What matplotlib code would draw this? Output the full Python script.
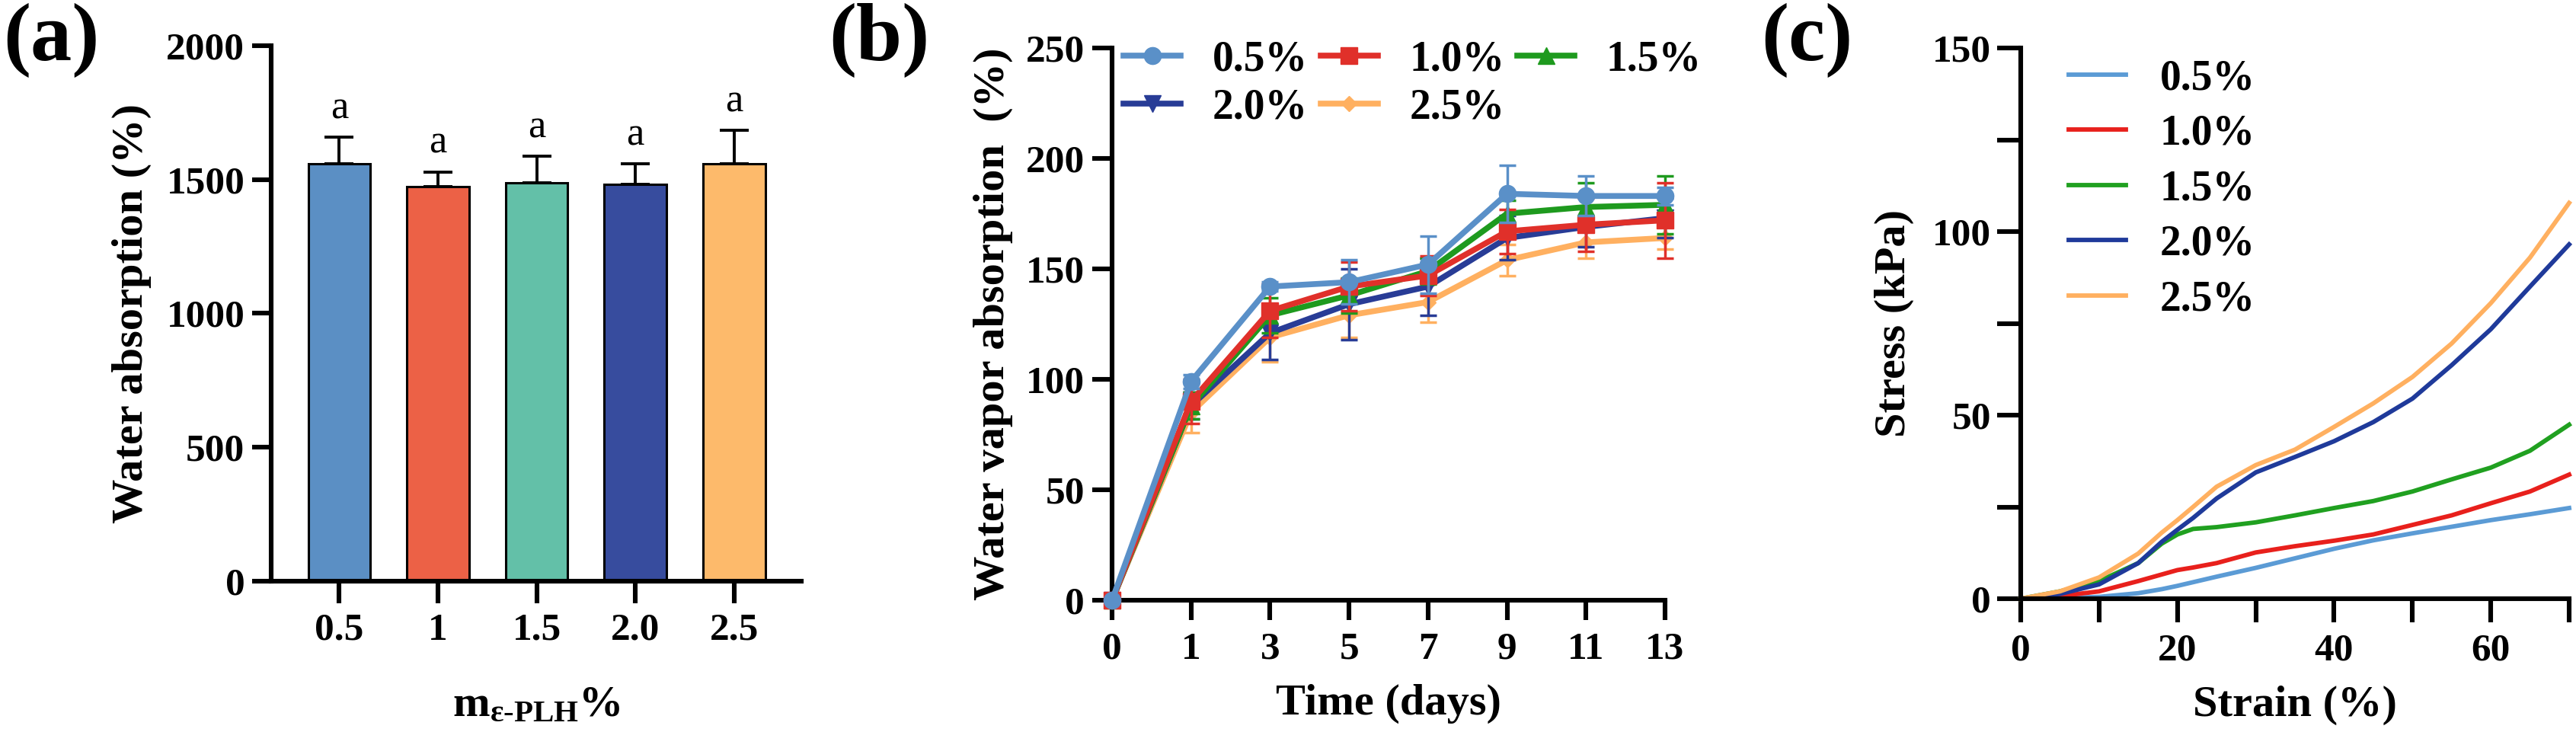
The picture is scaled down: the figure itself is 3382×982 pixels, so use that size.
import matplotlib
matplotlib.use("Agg")
import matplotlib.pyplot as plt
from matplotlib.lines import Line2D
import numpy as np

plt.rcParams['font.family'] = ['Liberation Serif', 'DejaVu Serif']
plt.rcParams['font.weight'] = 'bold'
plt.rcParams['mathtext.fontset'] = 'custom'
plt.rcParams['mathtext.rm'] = 'Liberation Serif:bold'
plt.rcParams['mathtext.bf'] = 'Liberation Serif:bold'
plt.rcParams['mathtext.it'] = 'Liberation Serif:bold'

# ---- Panel (a) data ----
a_labels = ['0.5', '1', '1.5', '2.0', '2.5']
a_values = [1558, 1473, 1487, 1483, 1560]
a_errors = [100, 55, 100, 75, 123]
a_colors = ['#5B8FC4', '#EC6146', '#63C0A8', '#374C9E', '#FDBA6B']
a_letters = ['a', 'a', 'a', 'a', 'a']

# ---- Panel (b) data ----
b_days = ['0', '1', '3', '5', '7', '9', '11', '13']
b_series = ['0.5%', '1.0%', '1.5%', '2.0%', '2.5%']
b_05 = [0, 99, 142, 144, 152, 184, 183, 183]
b_10 = [0, 90, 131, 142, 147, 167, 170, 172]
b_15 = [0, 88, 129, 138, 149, 175, 178, 179]
b_20 = [0, 88, 121, 134, 142, 164, 169, 173]
b_25 = [0, 85, 119, 129, 135, 154, 162, 164]
b_05_err = [0, 3, 2, 10, 13, 13, 9, 4]
b_10_err = [0, 10, 12, 11, 9, 10, 12, 17]
b_15_err = [0, 6, 8, 8, 6, 6, 11, 13]
b_20_err = [0, 6, 12, 16, 13, 10, 9, 9]
b_25_err = [0, 9, 11, 10, 9, 7, 7, 5]
b_colors = ['#5A90C8', '#E0302A', '#1E9A1E', '#283C96', '#FFB060']
b_markers = ['o', 's', '^', 'v', 'D']

# ---- Panel (c) data ----
c_strain = [0, 5, 10, 15, 18, 20, 22, 25, 30, 35, 40, 45, 50, 55, 60, 65, 70]
c_05 = [0, 0.2, 0.5, 1.5, 2.6, 3.5, 4.5, 6.0, 8.4, 11.0, 13.6, 15.9, 17.8, 19.6, 21.4, 23.0, 24.7]
c_10 = [0, 0.7, 2.0, 4.8, 6.6, 7.8, 8.5, 9.7, 12.6, 14.3, 15.8, 17.5, 20.1, 22.7, 26.0, 29.2, 33.8]
c_15 = [0, 2.0, 4.8, 9.7, 15.0, 17.5, 19.0, 19.5, 20.8, 22.7, 24.7, 26.6, 29.2, 32.5, 35.7, 40.3, 47.4]
c_20 = [0, 1.3, 3.9, 9.7, 15.5, 18.8, 22.0, 27.3, 34.4, 38.6, 42.9, 48.1, 54.5, 63.6, 73.4, 85.0, 96.5]
c_25 = [0, 2.0, 5.8, 12.3, 18.0, 21.4, 25.0, 30.5, 36.4, 40.6, 46.8, 53.2, 60.4, 69.5, 80.5, 92.9, 107.8]
c_colors = ['#5B9BD5', '#E8201C', '#20A020', '#1F3A9A', '#FFB060']

W, H = 3382, 982
fig = plt.figure(figsize=(W / 100, H / 100), dpi=100)

TICK = 37
LAB = 42
LEG = 40
SPW = 4.4

def style(ax):
    for s in ['top', 'right']:
        ax.spines[s].set_visible(False)
    for s in ['left', 'bottom']:
        ax.spines[s].set_linewidth(SPW)
    ax.tick_params(axis='both', which='major', length=19, width=SPW, labelsize=TICK, pad=6)
    ax.tick_params(axis='both', which='minor', length=13, width=SPW)
    for lab in ax.get_xticklabels() + ax.get_yticklabels():
        lab.set_fontweight('bold')

# ---- (a) ----
axa = fig.add_axes([356 / W, 1 - 763 / H, (1052 - 356) / W, (763 - 60) / H])
xa = np.arange(len(a_labels))
axa.bar(xa, a_values, width=0.63, color=a_colors, edgecolor='black', linewidth=2.2, zorder=2)
axa.errorbar(xa, a_values, yerr=[np.zeros(len(a_errors)), a_errors], fmt='none',
             ecolor='black', elinewidth=2.8, capsize=14, capthick=2.8, zorder=1)
for x, v, e, t in zip(xa, a_values, a_errors, a_letters):
    axa.text(x, v + e + 40, t, ha='center', va='bottom', fontsize=38, fontweight='normal')
axa.set_xlim(-0.69, 4.68)
axa.set_ylim(0, 2000)
axa.set_yticks([0, 500, 1000, 1500, 2000])
axa.set_xticks(xa)
axa.set_xticklabels(a_labels)
axa.set_ylabel('Water absorption (%)', fontsize=LAB, fontweight='bold', labelpad=14)
axa.set_xlabel(r'm$_{\mathregular{ε‐PLH}}$%', fontsize=LAB, fontweight='bold', labelpad=36)
style(axa)
axa.tick_params(axis='x', length=21, pad=9)
axa.tick_params(axis='y', length=18, pad=7)

# ---- (b) ----
axb = fig.add_axes([1460 / W, 1 - 788 / H, (2186 - 1460) / W, (788 - 63) / H])
xb = np.arange(len(b_days))
b_all = [b_05, b_10, b_15, b_20, b_25]
b_errs = [b_05_err, b_10_err, b_15_err, b_20_err, b_25_err]
handles = []
for i in [4, 3, 2, 1, 0]:
    msize = 16 if b_markers[i] != 'D' else 10
    axb.errorbar(xb, b_all[i], yerr=b_errs[i], color=b_colors[i], marker=b_markers[i],
                 markersize=msize, linewidth=5.5, elinewidth=2.5, capsize=8, capthick=2.5,
                 clip_on=False, zorder=3 + (4 - i))
for i in range(5):
    msize = 16 if b_markers[i] != 'D' else 10
    handles.append(Line2D([], [], color=b_colors[i], marker=b_markers[i],
                          markersize=msize, linewidth=5.5))
axb.set_xlim(0, 7)
axb.set_ylim(0, 250)
axb.set_xticks(xb)
axb.set_xticklabels(b_days)
axb.set_yticks([0, 50, 100, 150, 200, 250])
axb.set_ylabel('Water vapor absorption  (%)', fontsize=LAB, fontweight='bold', labelpad=12)
axb.set_xlabel('Time (days)', fontsize=LAB, fontweight='bold', labelpad=16)
style(axb)
axb.tick_params(axis='x', length=19, pad=11)
axb.tick_params(axis='y', length=19, pad=7)
order = [0, 3, 1, 4, 2]
axb.legend([handles[k] for k in order], [b_series[k] for k in order],
           ncol=3, loc='upper left', bbox_to_anchor=(1453 / W, 1 - 30 / H),
           bbox_transform=fig.transFigure, borderaxespad=0, frameon=False,
           prop={'family': 'Liberation Serif', 'weight': 'bold', 'size': LEG},
           handlelength=1.35, handletextpad=0.75, columnspacing=0.3, labelspacing=0.2)

# ---- (c) ----
axc = fig.add_axes([2653 / W, 1 - 786 / H, (3373 - 2653) / W, (786 - 63) / H])
c_all = [c_05, c_10, c_15, c_20, c_25]
for i in range(5):
    axc.plot(c_strain, c_all[i], color=c_colors[i], linewidth=4.2, label=b_series[i], clip_on=False)
axc.set_xlim(0, 70)
axc.set_ylim(0, 150)
axc.set_xticks([0, 20, 40, 60])
axc.set_xticks([10, 30, 50, 70], minor=True)
axc.set_yticks([0, 50, 100, 150])
axc.set_yticks([25, 75, 125], minor=True)
axc.set_ylabel('Stress (kPa)', fontsize=LAB, fontweight='bold', labelpad=17)
axc.set_xlabel('Strain (%)', fontsize=LAB, fontweight='bold', labelpad=16)
style(axc)
axc.tick_params(axis='both', which='major', length=22)
axc.tick_params(axis='x', which='major', pad=11)
axc.tick_params(axis='y', which='major', pad=6)
axc.tick_params(axis='both', which='minor', length=22, width=SPW)
axc.legend(loc='upper left', bbox_to_anchor=(2694 / W, 1 - 55 / H),
           bbox_transform=fig.transFigure, borderaxespad=0, frameon=False,
           prop={'family': 'Liberation Serif', 'weight': 'bold', 'size': LEG},
           handlelength=1.35, handletextpad=0.8, labelspacing=0.37)

# ---- panel labels ----
fig.text(4 / W, 1 - 4 / H, '(a)', fontsize=78, fontweight='bold', va='top', ha='left')
fig.text(1088 / W, 1 - 4 / H, '(b)', fontsize=78, fontweight='bold', va='top', ha='left')
fig.text(2312 / W, 1 - 4 / H, '(c)', fontsize=78, fontweight='bold', va='top', ha='left')

fig.savefig('out.png', dpi=100)
